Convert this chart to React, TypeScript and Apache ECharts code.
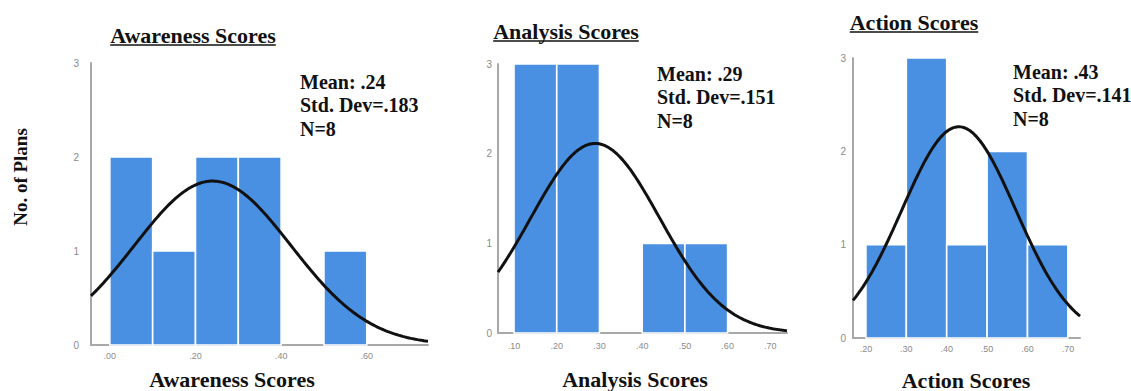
import React, { useEffect, useRef } from "react";
import * as echarts from "echarts";

// Histogram bins (lower edges) and counts for each score
const awarenessBinStarts = [0.0, 0.1, 0.2, 0.3, 0.4, 0.5];
const awarenessCounts = [2, 1, 2, 2, 0, 1];
const analysisBinStarts = [0.1, 0.2, 0.3, 0.4, 0.5];
const analysisCounts = [3, 3, 0, 1, 1];
const actionBinStarts = [0.2, 0.3, 0.4, 0.5, 0.6];
const actionCounts = [1, 3, 1, 2, 1];

const binWidth = 0.1;

// Summary statistics printed on each panel
const means = [0.24, 0.29, 0.43];
const stdDevs = [0.183, 0.151, 0.141];
const sampleSizes = [8, 8, 8];
const meanLabels = [".24", ".29", ".43"];
const stdDevLabels = [".183", ".151", ".141"];

// Tick values
const yTicks = [0, 1, 2, 3];
const awarenessXTicks = [0.0, 0.2, 0.4, 0.6];
const analysisXTicks = [0.1, 0.2, 0.3, 0.4, 0.5, 0.6, 0.7];
const actionXTicks = [0.2, 0.3, 0.4, 0.5, 0.6, 0.7];

const titles = ["Awareness Scores", "Analysis Scores", "Action Scores"];
const yAxisTitle = "No. of Plans";

const BLUE = "#4a90e2";
const AXIS_GRAY = "#a8a8a8";
const TICK_GRAY = "#8a8a8a";
const SERIF = '"Liberation Serif", "Times New Roman", serif';

// Layout for each panel
const panels = [
  {
    starts: awarenessBinStarts, counts: awarenessCounts, xTicks: awarenessXTicks,
    grid: { left: 91, top: 63, width: 337, height: 282 }, xMin: -0.044, xMax: 0.743,
    titleX: 193, titleY: 35, nameX: 232, nameY: 379, statX: 300, statY: 70,
    yLabelMargin: 12, xLabelMargin: 6,
  },
  {
    starts: analysisBinStarts, counts: analysisCounts, xTicks: analysisXTicks,
    grid: { left: 498, top: 64, width: 289, height: 269 }, xMin: 0.0625, xMax: 0.739,
    titleX: 566, titleY: 31, nameX: 635, nameY: 379, statX: 657, statY: 62,
    yLabelMargin: 6, xLabelMargin: 8,
  },
  {
    starts: actionBinStarts, counts: actionCounts, xTicks: actionXTicks,
    grid: { left: 853, top: 58, width: 227, height: 280 }, xMin: 0.168, xMax: 0.73,
    titleX: 914, titleY: 22, nameX: 966, nameY: 380, statX: 1013, statY: 60,
    yLabelMargin: 7, xLabelMargin: 6,
  },
];

function normalCurve(mean: number, sd: number, n: number, xMin: number, xMax: number) {
  const pts: number[][] = [];
  const steps = 160;
  const scale = (n * binWidth) / (sd * Math.sqrt(2 * Math.PI));
  for (let i = 0; i <= steps; i++) {
    const x = xMin + ((xMax - xMin) * i) / steps;
    const z = (x - mean) / sd;
    pts.push([x, scale * Math.exp(-0.5 * z * z)]);
  }
  return pts;
}

function measure(text: string, font: string) {
  const c = document.createElement("canvas").getContext("2d");
  if (!c) return text.length * 10;
  c.font = font;
  return c.measureText(text).width;
}

const tickFmt = (v: number) => v.toFixed(2).replace(/^0/, "");

export default function App() {
  const ref = useRef<HTMLDivElement>(null);

  useEffect(() => {
    if (!ref.current) return;
    const chart = echarts.init(ref.current, undefined, { renderer: "svg" });

    const grids: any[] = [];
    const xAxes: any[] = [];
    const yAxes: any[] = [];
    const series: any[] = [];
    const graphics: any[] = [];

    panels.forEach((p, i) => {
      grids.push({ ...p.grid });
      xAxes.push({
        type: "value",
        gridIndex: i,
        min: p.xMin,
        max: p.xMax,
        axisLine: { show: true, onZero: false, lineStyle: { color: AXIS_GRAY, width: 2 } },
        axisTick: { show: false },
        splitLine: { show: false },
        axisLabel: {
          customValues: p.xTicks,
          formatter: tickFmt,
          fontSize: 9,
          color: TICK_GRAY,
          fontFamily: "Liberation Sans, Arial, sans-serif",
          margin: p.xLabelMargin,
        },
      });
      yAxes.push({
        type: "value",
        gridIndex: i,
        min: 0,
        max: 3,
        interval: 1,
        axisLine: { show: true, onZero: false, lineStyle: { color: AXIS_GRAY, width: 2 } },
        axisTick: { show: false },
        splitLine: { show: false },
        axisLabel: {
          customValues: yTicks,
          fontSize: 10,
          color: TICK_GRAY,
          fontFamily: "Liberation Sans, Arial, sans-serif",
          margin: p.yLabelMargin,
        },
      });

      const binData = p.starts
        .map((s, k) => [s, s + binWidth, p.counts[k]])
        .filter((d) => d[2] > 0);

      series.push({
        type: "custom",
        xAxisIndex: i,
        yAxisIndex: i,
        data: binData,
        encode: { x: [0, 1], y: 2 },
        renderItem: (_params: any, api: any) => {
          const lo = api.value(0);
          const hi = api.value(1);
          const c = api.value(2);
          const a = api.coord([lo, c]);
          const b = api.coord([hi, 0]);
          return {
            type: "rect",
            shape: { x: a[0], y: a[1], width: b[0] - a[0], height: b[1] - a[1] },
            style: { fill: BLUE, stroke: "#ffffff", lineWidth: 1.6 },
          };
        },
        z: 2,
      });

      series.push({
        type: "line",
        xAxisIndex: i,
        yAxisIndex: i,
        data: normalCurve(means[i], stdDevs[i], sampleSizes[i], p.xMin, p.xMax),
        showSymbol: false,
        smooth: false,
        lineStyle: { color: "#111111", width: 3 },
        z: 3,
      });

      // Underlined panel title
      const titleFont = `bold 22px ${SERIF}`;
      const tw = measure(titles[i], titleFont);
      graphics.push({
        type: "text",
        x: p.titleX,
        y: p.titleY,
        style: {
          text: titles[i],
          fontSize: 22,
          fontWeight: "bold",
          fontFamily: SERIF,
          fill: "#111111",
          align: "center",
          verticalAlign: "middle",
        },
      });
      graphics.push({
        type: "line",
        shape: { x1: p.titleX - tw / 2, y1: p.titleY + 10, x2: p.titleX + tw / 2, y2: p.titleY + 10 },
        style: { stroke: "#111111", lineWidth: 1.5 },
      });

      // Axis name below the x axis
      graphics.push({
        type: "text",
        x: p.nameX,
        y: p.nameY,
        style: {
          text: titles[i],
          fontSize: 22,
          fontWeight: "bold",
          fontFamily: SERIF,
          fill: "#111111",
          align: "center",
          verticalAlign: "middle",
        },
      });

      // Summary statistics block
      graphics.push({
        type: "text",
        x: p.statX,
        y: p.statY,
        z: 10,
        style: {
          text: `Mean: ${meanLabels[i]}\nStd. Dev=${stdDevLabels[i]}\nN=${sampleSizes[i]}`,
          fontSize: 20,
          fontWeight: "bold",
          fontFamily: SERIF,
          fill: "#111111",
          lineHeight: 23.5,
          align: "left",
          verticalAlign: "top",
        },
      });
    });

    graphics.push({
      type: "text",
      x: 20,
      y: 177,
      rotation: Math.PI / 2,
      style: {
        text: yAxisTitle,
        fontSize: 19,
        fontWeight: "bold",
        fontFamily: SERIF,
        fill: "#111111",
        align: "center",
        verticalAlign: "middle",
      },
    });

    chart.setOption({
      animation: false,
      backgroundColor: "#ffffff",
      grid: grids,
      xAxis: xAxes,
      yAxis: yAxes,
      series,
      graphic: { elements: graphics },
    });

    return () => chart.dispose();
  }, []);

  return (
    <div
      ref={ref}
      style={{ position: "absolute", left: 0, top: 0, width: 1131, height: 391 }}
    />
  );
}
